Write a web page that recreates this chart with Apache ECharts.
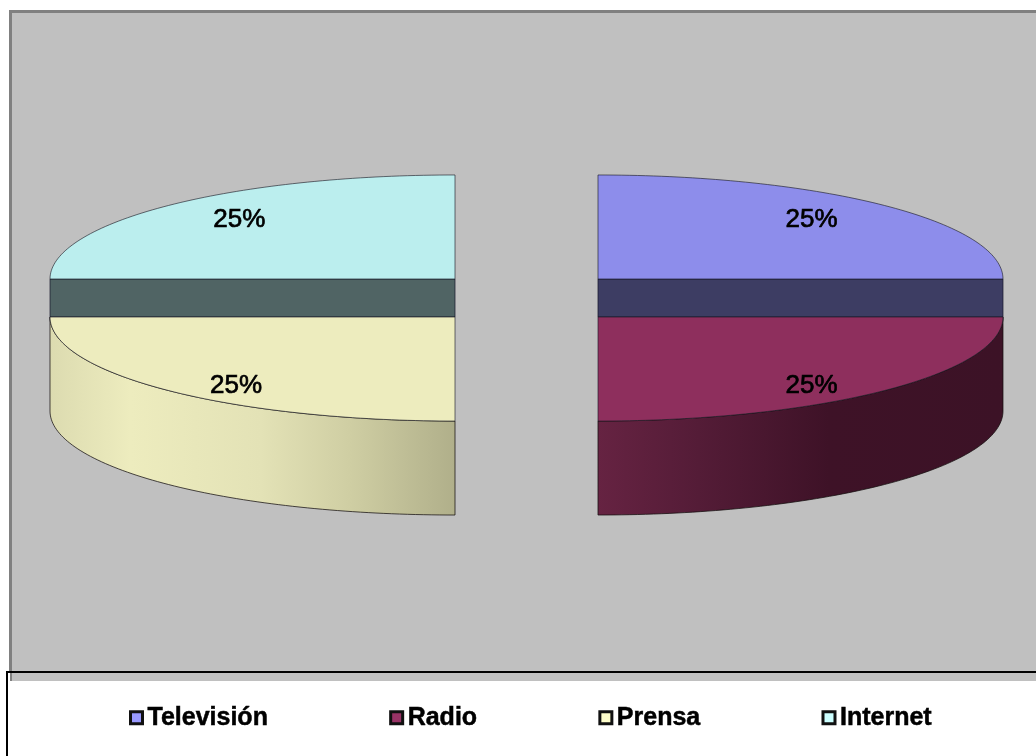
<!DOCTYPE html>
<html><head><meta charset="utf-8">
<style>html,body{margin:0;padding:0;background:#fff}#c{width:1036px;height:756px}</style>
<script src="https://cdn.jsdelivr.net/npm/echarts@6/dist/echarts.min.js"></script>
</head><body><div id="c"></div>
<script>
const categories = ['Televisión', 'Radio', 'Prensa', 'Internet'];
const values = [25, 25, 25, 25];
const legendColors = ['#9999ff', '#993366', '#ffffcc', '#ccffff'];
const topColors = ['#8d8deb', '#8e2f5d', '#edecbe', '#bbeeee'];
const cutColors = ['#3d3d63', '#3d1a2c', '#9a9a7c', '#506464'];
const wallStops = [
  [[0, '#505078'], [1, '#505078']],
  [[0, '#662342'], [0.25, '#541c37'], [0.57, '#3e1227'], [1, '#3c1226']],
  [[0, '#dcdbb0'], [0.2, '#edecbe'], [0.52, '#e3e2b6'], [0.74, '#cfcea3'], [1, '#b0af8a']],
  [[0, '#8fb0b0'], [1, '#8fb0b0']]
];

const PIE = { cx: 526.5, cy: 298, rx: 405, ry: 104, depth: 94, explodeX: 101.1, explodeY: 26.9 };
const total = values.reduce((a, b) => a + b, 0);

function sliceAngles(i) {
  let before = 0;
  for (let k = 0; k < i; k++) before += values[k];
  return [before / total * 2 * Math.PI, (before + values[i]) / total * 2 * Math.PI];
}
// angle measured clockwise from 12 o'clock
function rim(c, a, yShift) {
  return [c[0] + PIE.rx * Math.sin(a), c[1] - PIE.ry * Math.cos(a) + (yShift || 0)];
}
function arc(c, a0, a1, yShift) {
  const pts = [];
  const n = 80;
  for (let j = 0; j <= n; j++) pts.push(rim(c, a0 + (a1 - a0) * j / n, yShift));
  return pts;
}

function renderSlice(params, api) {
  const i = params.seriesIndex;
  const value = api.value(0);
  const [a0, a1] = sliceAngles(i);
  const mid = (a0 + a1) / 2;
  const c = [PIE.cx + PIE.explodeX * Math.sin(mid), PIE.cy - PIE.explodeY * Math.cos(mid)];
  const toPx = pts => pts.map(p => api.coord(p));
  const children = [];
  const front = Math.cos(mid) < 0;
  if (front) {
    // outer rounded wall of the front slices
    const top = arc(c, a0, a1, 0);
    const bottom = arc(c, a1, a0, PIE.depth);
    children.push({
      type: 'polygon',
      shape: { points: toPx(top.concat(bottom)) },
      style: {
        fill: new echarts.graphic.LinearGradient(0, 0, 1, 0, wallStops[i].map(s => ({ offset: s[0], color: s[1] }))),
        stroke: 'rgba(20,15,15,0.75)', lineWidth: 1
      }
    });
  } else {
    // flat cut face of the rear slices, visible down to the front slice's top
    const h = 2 * PIE.explodeY * Math.abs(Math.cos(mid));
    const e = rim(c, Math.sin(mid) > 0 ? a1 : a0, 0);
    children.push({
      type: 'polygon',
      shape: { points: toPx([c, e, [e[0], e[1] + h], [c[0], c[1] + h]]) },
      style: { fill: cutColors[i], stroke: 'rgba(20,20,40,0.7)', lineWidth: 1 }
    });
  }
  // top face
  children.push({
    type: 'polygon',
    shape: { points: toPx([c].concat(arc(c, a0, a1, 0))) },
    style: { fill: topColors[i], stroke: 'rgba(25,25,35,0.62)', lineWidth: 1 }
  });
  // percentage label
  const lp = api.coord([
    c[0] + PIE.rx * 0.53 * Math.sign(Math.sin(mid)) * (i === 2 ? 1.02 : i === 3 ? 1.005 : 0.995),
    c[1] - PIE.ry * 0.615 * Math.sign(Math.cos(mid)) + 4.5
  ]);
  children.push({
    type: 'text',
    z2: 10,
    style: {
      x: lp[0], y: lp[1],
      text: Math.round(value / total * 100) + '%',
      font: '26px "Liberation Sans"',
      fill: '#000', stroke: '#000', lineWidth: 0.7,
      align: 'center', verticalAlign: 'middle'
    }
  });
  return { type: 'group', children };
}

const chart = echarts.init(document.getElementById('c'), null, { renderer: 'canvas' });
chart.setOption({
  animation: false,
  backgroundColor: '#ffffff',
  grid: { show: true, left: 10.5, top: 11.5, width: 1040, height: 680, outerBoundsMode: 'none', backgroundColor: '#c0c0c0', borderColor: '#808080', borderWidth: 3 },
  xAxis: { type: 'value', min: 10.5, max: 1050.5, show: false },
  yAxis: { type: 'value', min: 11.5, max: 691.5, inverse: true, show: false },
  legend: {
    left: 124, top: 700, z: 10, itemGap: 121, itemWidth: 12, itemHeight: 12, icon: 'rect',
    data: categories,
    itemStyle: { borderColor: '#111', borderWidth: 3 },
    textStyle: { fontFamily: 'Liberation Sans', fontWeight: 'bold', fontSize: 25, color: '#000', textBorderColor: '#000', textBorderWidth: 0.5 },
    selectedMode: false
  },
  graphic: [
    { type: 'rect', z: 5, shape: { x: 0, y: 681, width: 1036, height: 75 }, style: { fill: '#fff' } },
    { type: 'rect', z: 5, shape: { x: 0, y: 672, width: 10, height: 84 }, style: { fill: '#fff' } },
    { type: 'rect', z: 6, shape: { x: 6, y: 671, width: 1030, height: 2 }, style: { fill: '#000' } },
    { type: 'rect', z: 6, shape: { x: 6, y: 671, width: 2, height: 85 }, style: { fill: '#000' } }
  ],
  series: categories.map((name, i) => ({
    type: 'custom',
    name,
    coordinateSystem: 'cartesian2d',
    clip: false,
    z: i === 1 || i === 2 ? 3 : 2,
    itemStyle: { color: legendColors[i] },
    data: [[values[i]]],
    encode: { x: 0 },
    renderItem: renderSlice
  }))
});
</script></body></html>
